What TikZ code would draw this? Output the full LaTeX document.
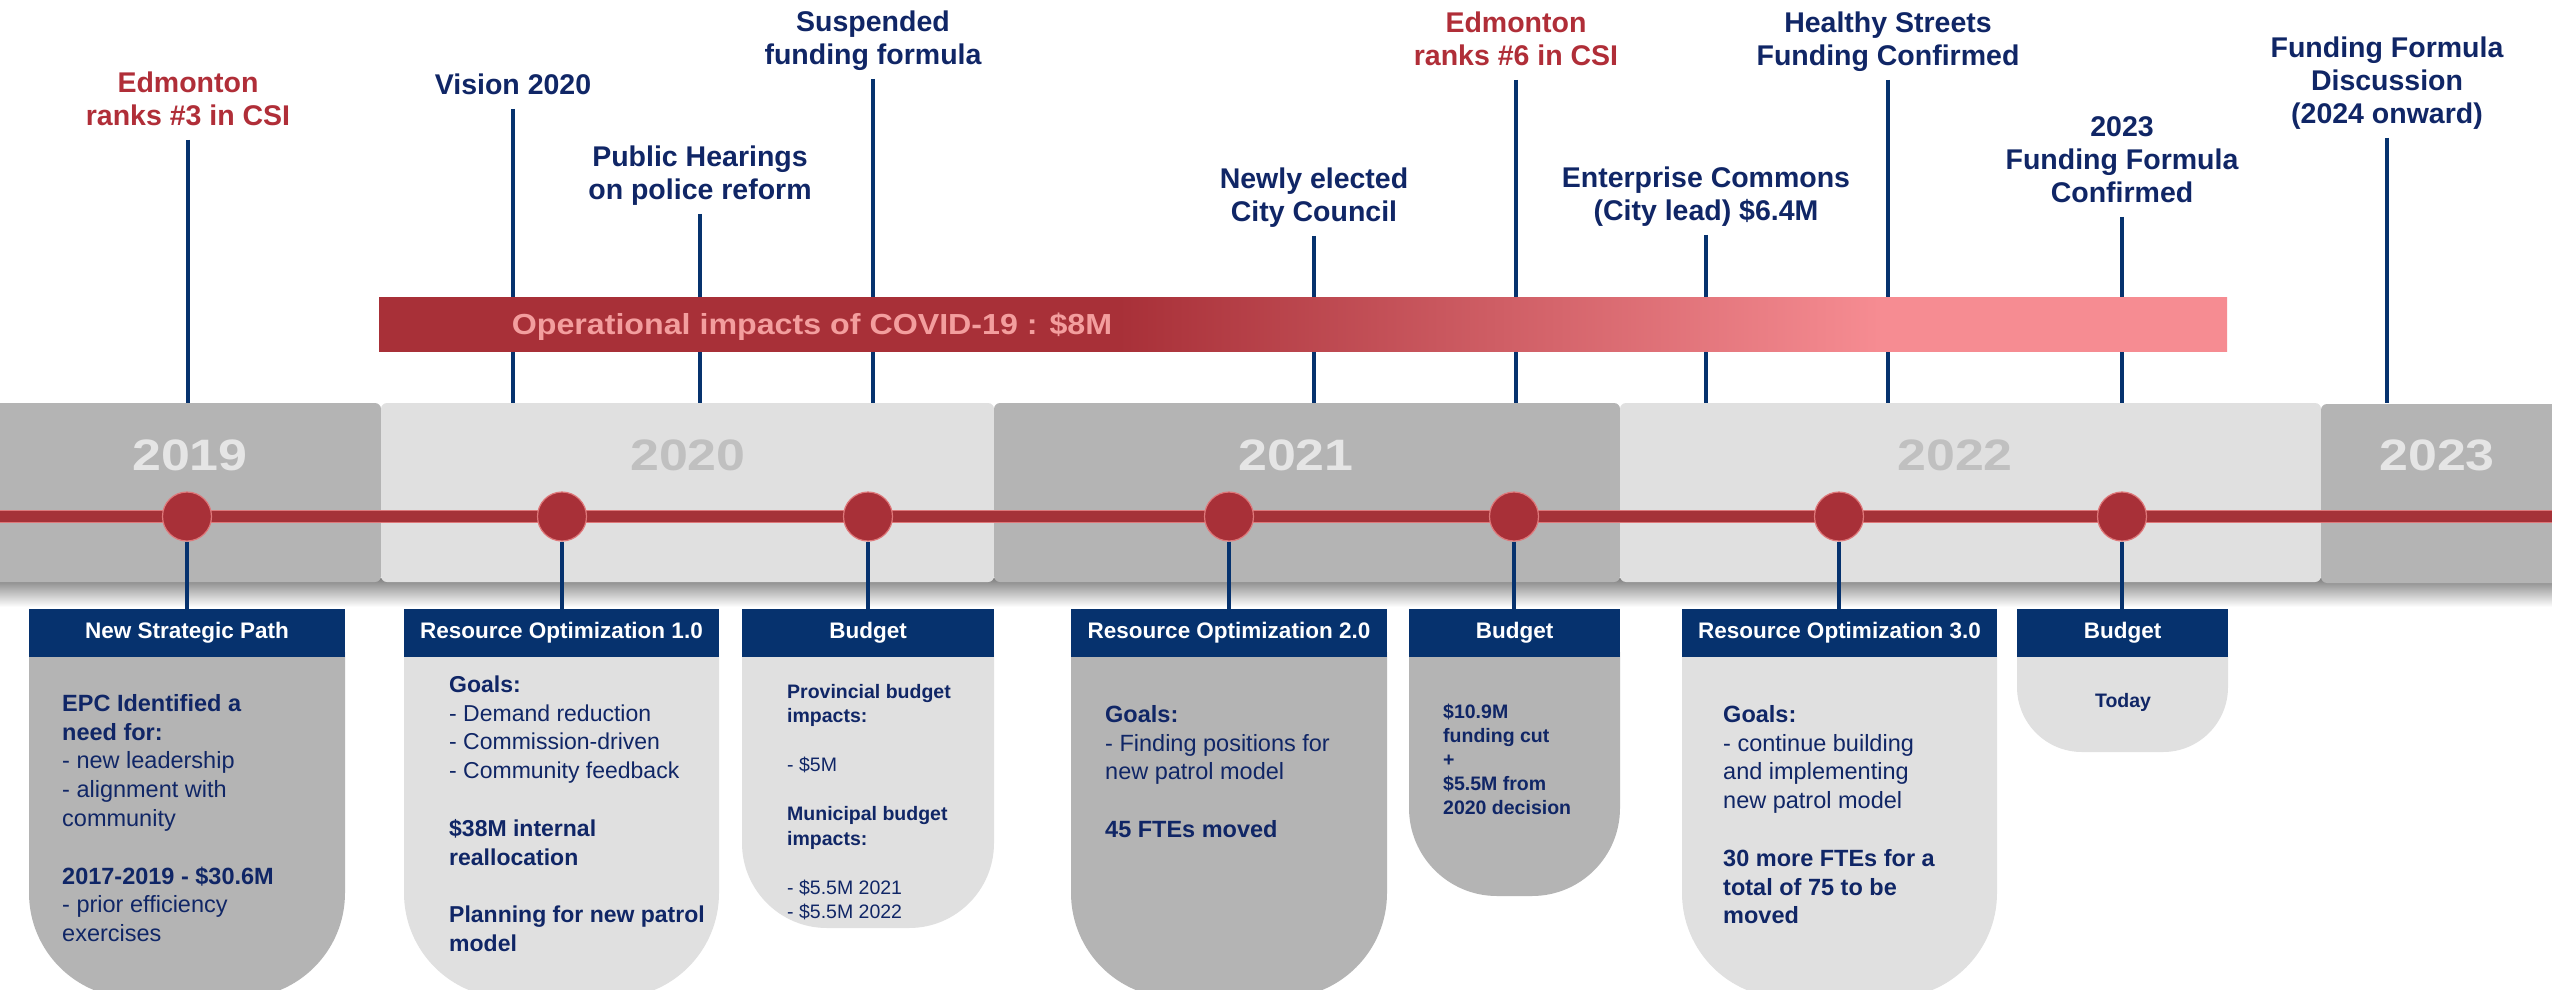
\documentclass[tikz,border=0pt]{standalone}
\usepackage{fontspec}
\setmainfont{Liberation Sans}
\newfontfamily\widefont{Liberation Sans}[FakeStretch=1.18]
\newfontfamily\covidfont{Liberation Sans}[FakeStretch=1.11]
\usetikzlibrary{calc}

\definecolor{navy}{RGB}{6,50,110}
\definecolor{ink}{RGB}{16,38,102}
\definecolor{accent}{RGB}{176,46,56}
\definecolor{barred}{RGB}{168,48,56}
\definecolor{barpink}{RGB}{246,140,146}
\definecolor{bartext}{RGB}{243,158,158}
\definecolor{segdark}{RGB}{180,180,180}
\definecolor{seglight}{RGB}{224,224,224}
\definecolor{yrdark}{RGB}{229,229,229}
\definecolor{yrlight}{RGB}{192,192,192}
\definecolor{linered}{RGB}{165,50,56}
\definecolor{lineedge}{RGB}{222,120,122}
\definecolor{shadowgray}{RGB}{128,128,128}

% dark red on the left, fading to pink towards the right end of the bar
\pgfdeclarehorizontalshading{covidshade}{100bp}{%
  color(0bp)=(barred); color(45bp)=(barred); color(65.6bp)=(barpink); color(100bp)=(barpink)}

% card body: fill, left x, right x, bottom y, corner radius
\newcommand\cardbody[5]{%
  \fill[#1] (#2,652) [rounded corners=#5pt] -- (#2,#4) -- (#3,#4) [sharp corners] -- (#3,652) -- cycle;}

\begin{document}
\begin{tikzpicture}[x=1pt,y=-1pt,
  toplabel/.style={font=\bfseries\fontsize{28.5}{33}\selectfont, align=center,
    inner sep=0pt, anchor=south, text=ink},
  redlabel/.style={text=accent},
  leader/.style={draw=navy, line width=4.5pt},
  yearlabel/.style={font=\widefont\bfseries\fontsize{44}{50}\selectfont, anchor=base, inner sep=0pt},
  milestone/.style={circle, fill=barred, draw=lineedge, line width=1.2pt,
    minimum size=49pt, inner sep=0pt},
  boxhead/.style={fill=navy, text=white, font=\bfseries\fontsize{22.5}{26}\selectfont,
    minimum height=48pt, inner sep=0pt},
  bodytext/.style={font=\fontsize{23.5}{28.8}\selectfont, text=ink, align=left,
    anchor=north west, inner sep=0pt},
  smalltext/.style={font=\fontsize{19.5}{24.5}\selectfont, text=ink, align=left,
    anchor=north west, inner sep=0pt},
]
\useasboundingbox (0,0) rectangle (2552,990);
\clip (0,0) rectangle (2552,990);
\fill[white] (0,0) rectangle (2552,990);

\coordinate (bandtop) at (0,403);

% ---------- events above the timeline ----------
\node[toplabel, redlabel] (t1) at (188,135.9) {Edmonton\\ranks \#3 in CSI\strut};
\node[toplabel] (t2) at (513,104.9) {Vision 2020\strut};
\node[toplabel] (t3) at (700,209.9) {Public Hearings\\on police reform\strut};
\node[toplabel] (t4) at (873,74.9) {Suspended\\funding formula\strut};
\node[toplabel] (t5) at (1314,231.9) {Newly elected\\City Council\strut};
\node[toplabel, redlabel] (t6) at (1516,75.9) {Edmonton\\ranks \#6 in CSI\strut};
\node[toplabel] (t7) at (1706,230.9) {Enterprise Commons\\(City lead) \$6.4M\strut};
\node[toplabel] (t8) at (1888,75.9) {Healthy Streets\\Funding Confirmed\strut};
\node[toplabel] (t9) at (2122,212.9) {2023\\Funding Formula\\Confirmed\strut};
\node[toplabel] (t10) at (2387,133.9) {Funding Formula\\Discussion\\(2024 onward)\strut};

\foreach \t in {t1,t2,t3,t4,t5,t6,t7,t8,t9,t10}
  \draw[leader] ([yshift=-4pt]\t.south) -- (\t.south |- bandtop);

% ---------- COVID-19 bar ----------
\node[shading=covidshade, minimum width=1848pt, minimum height=54pt, inner sep=0pt]
  (covidbar) at (1303,324) {};
\node[font=\covidfont\bfseries\fontsize{29}{33}\selectfont, text=bartext, inner sep=0pt, anchor=base]
  (covid) at (812,334.4) {Operational impacts of COVID-19 : \$8M};

% ---------- year band ----------
\shade[top color=shadowgray, bottom color=white] (0,578) rectangle (2552,607);
\fill[segdark, rounded corners=6pt] (-10,403) rectangle (381,582);
\fill[seglight, rounded corners=6pt] (381,403) rectangle (994,582);
\fill[segdark, rounded corners=6pt] (994,403) rectangle (1620,582);
\fill[seglight, rounded corners=6pt] (1620,403) rectangle (2321,582);
\fill[segdark, rounded corners=6pt] (2321,404) rectangle (2562,583);

\node[yearlabel, text=yrdark] (y19) at (190,470) {2019};
\node[yearlabel, text=yrlight] (y20) at (688,470) {2020};
\node[yearlabel, text=yrdark] (y21) at (1296,470) {2021};
\node[yearlabel, text=yrlight] (y22) at (1955,470) {2022};
\node[yearlabel, text=yrdark] (y23) at (2437,470) {2023};

% ---------- timeline axis ----------
\coordinate (axisL) at (-5,516.5);
\coordinate (axisR) at (2560,516.5);
\draw[lineedge, line width=13.5pt] (axisL) -- (axisR);
\draw[linered, line width=11pt] (axisL) -- (axisR);

% ---------- cards below the timeline ----------
\cardbody{segdark}{29}{345}{998}{105}
\cardbody{seglight}{404}{719}{998}{105}
\cardbody{seglight}{742}{994}{928}{85}
\cardbody{segdark}{1071}{1387}{998}{105}
\cardbody{segdark}{1409}{1620}{896}{88}
\cardbody{seglight}{1682}{1997}{998}{105}
\cardbody{seglight}{2017}{2228}{752}{65}

\node[boxhead, minimum width=316pt] (h1) at (187,633) {New Strategic Path};
\node[boxhead, minimum width=315pt] (h2) at (561.5,633) {Resource Optimization 1.0};
\node[boxhead, minimum width=252pt] (h3) at (868,633) {Budget};
\node[boxhead, minimum width=316pt] (h4) at (1229,633) {Resource Optimization 2.0};
\node[boxhead, minimum width=211pt] (h5) at (1514.5,633) {Budget};
\node[boxhead, minimum width=315pt] (h6) at (1839.5,633) {Resource Optimization 3.0};
\node[boxhead, minimum width=211pt] (h7) at (2122.5,633) {Budget};

% ---------- milestones ----------
\node[milestone] (c1) at (187,516.5) {};
\node[milestone] (c2) at (562,516.5) {};
\node[milestone] (c3) at (868,516.5) {};
\node[milestone] (c4) at (1229,516.5) {};
\node[milestone] (c5) at (1514,516.5) {};
\node[milestone] (c6) at (1839,516.5) {};
\node[milestone] (c7) at (2122,516.5) {};

\foreach \i in {1,...,7}
  \draw[leader] (c\i.south) -- (c\i.south |- h\i.north);

% ---------- card texts ----------
\node[bodytext] (p1) at (62,690.9) {\strut\textbf{EPC Identified a}\\\textbf{need for:}\\
  - new leadership\\- alignment with\\community\\\strut\\
  \textbf{2017-2019 - \$30.6M}\\- prior efficiency\\exercises};

\node[bodytext, font=\fontsize{23}{28.8}\selectfont] (p2) at (449,671.9) {\strut\textbf{Goals:}\\- Demand reduction\\
  - Commission-driven\\- Community feedback\\\strut\\
  \textbf{\$38M internal}\\\textbf{reallocation}\\\strut\\
  \textbf{Planning for new patrol}\\\textbf{model}};

\node[smalltext] (p3) at (787,680.9) {\strut\textbf{Provincial budget}\\\textbf{impacts:}\\\strut\\
  - \$5M\\\strut\\\textbf{Municipal budget}\\\textbf{impacts:}\\\strut\\
  - \$5.5M 2021\\- \$5.5M 2022};

\node[bodytext] (p4) at (1105,701.9) {\strut\textbf{Goals:}\\- Finding positions for\\
  new patrol model\\\strut\\\textbf{45 FTEs moved}};

\node[smalltext, font=\bfseries\fontsize{19.5}{24}\selectfont] (p5) at (1443,701.2)
  {\strut\$10.9M\\funding cut\\+\\\$5.5M from\\2020 decision};

\node[bodytext] (p6) at (1723,701.9) {\strut\textbf{Goals:}\\- continue building\\
  and implementing\\new patrol model\\\strut\\
  \textbf{30 more FTEs for a}\\\textbf{total of 75 to be}\\\textbf{moved}};

\node[font=\bfseries\fontsize{19.5}{24}\selectfont, text=ink, anchor=base, inner sep=0pt]
  (p7) at (2123,707) {Today};

\end{tikzpicture}
\end{document}
